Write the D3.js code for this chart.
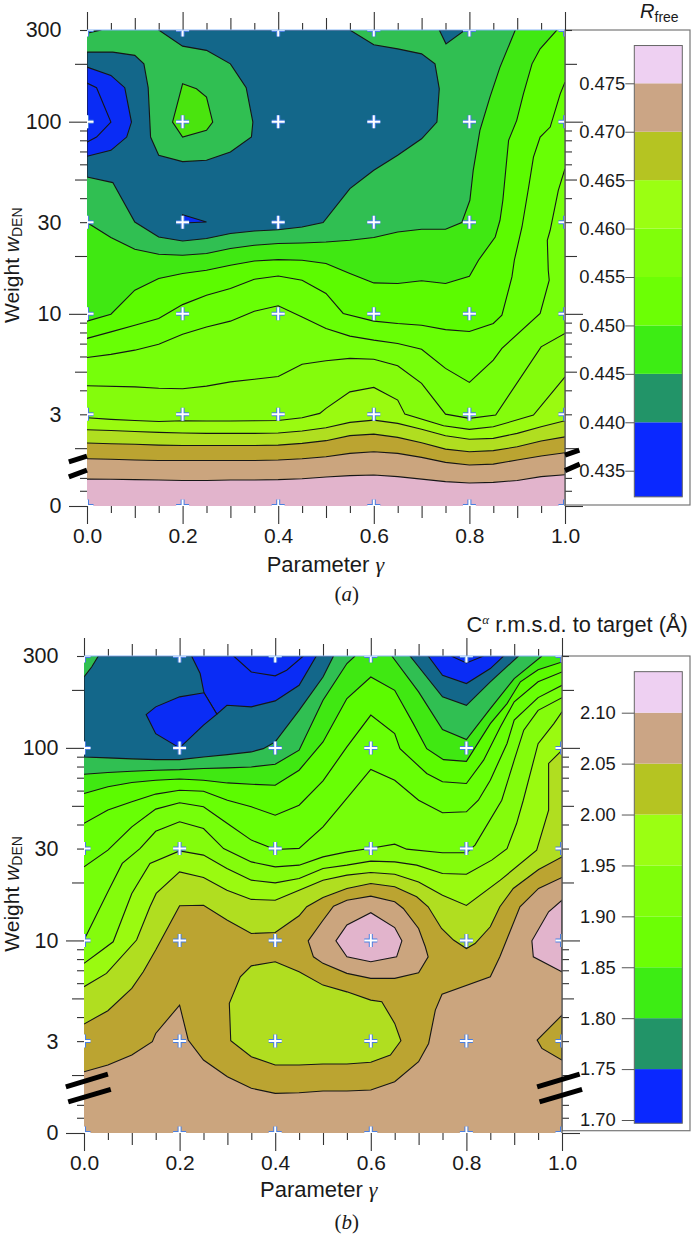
<!DOCTYPE html>
<html>
<head>
<meta charset="utf-8">
<script src="https://cdn.jsdelivr.net/npm/d3@7"></script>
<style>
  html, body { margin: 0; background: #fff; }
  svg { display: block; }
  text { font-family: "Liberation Sans", Arial, sans-serif; fill: #1a1a1a; }
  .serif { font-family: "Liberation Serif", serif; font-style: italic; }
  .caption { font-family: "Liberation Serif", serif; }
</style>
</head>
<body>
<svg id="fig" width="692" height="1234"></svg>
<script>
// every contour as [gamma, log10(weight)]
const gammaGrid = [0,.05,.1,.15,.2,.25,.3,.35,.4,.45,.5,.55,.6,.65,.7,.75,.8,.85,.9,.95,1];
const gridGammas = [0,.2,.4,.6,.8,1];
const gridWeights = [1,3,10,30,100,300];
const weightLabels = ['0','3','10','30','100','300'];
const gammaLabels = ['0.0','0.2','0.4','0.6','0.8','1.0'];
const TOP = 2.477;

// panel a, contour levels from high weight down
const aU0 = [[0,1.475],[.05,1.397],[.1,1.336],[.15,1.310],[.2,1.305],[.25,1.314],[.3,1.340],[.35,1.357],[.4,1.366],[.45,1.369],[.5,1.374],[.55,1.383],[.6,1.397],[.65,1.426],[.7,1.440],[.75,1.440],[.784,1.475],[.801,1.591],[.808,1.747],[.822,1.955],[.843,2.128],[.864,2.284],[.896,TOP]];
const aT1 = [[0,.962],[.05,.998],[.1,1.123],[.15,1.184],[.2,1.210],[.25,1.227],[.3,1.253],[.35,1.275],[.4,1.282],[.45,1.279],[.5,1.262],[.55,1.210],[.6,1.161],[.65,1.158],[.7,1.172],[.75,1.158],[.8,1.196],[.819,1.279],[.854,1.400],[.864,1.487],[.870,1.591],[.882,1.903],[.899,2.007],[.913,2.145],[.931,2.301],[.948,2.379],[.983,TOP]];
const aT2 = [[0,.872],[.05,.906],[.1,.941],[.15,.976],[.2,1.048],[.25,1.097],[.3,1.132],[.35,1.180],[.4,1.197],[.45,1.175],[.5,1.106],[.536,1.002],[.6,.962],[.65,.950],[.7,.941],[.75,.918],[.8,.908],[.85,.950],[.868,.993],[.889,1.192],[.894,1.279],[.91,1.452],[.924,1.660],[.934,1.816],[.948,1.920],[.969,1.972],[.99,2.145],[1,2.206]];
const aT3 = [[0,.773],[.05,.789],[.1,.811],[.15,.842],[.2,.894],[.25,.932],[.3,.962],[.35,1.014],[.4,1.042],[.45,.984],[.5,.924],[.55,.884],[.6,.863],[.65,.846],[.7,.816],[.75,.716],[.8,.643],[.85,.759],[.868,.820],[.948,1.002],[.967,1.175],[.965,1.227],[.963,1.383],[.969,1.435],[.986,1.643],[1,1.755]];
const aT4 = [[0,.626],[.1,.620],[.15,.613],[.2,.610],[.25,.624],[.3,.646],[.35,.660],[.4,.674],[.45,.738],[.5,.756],[.55,.768],[.6,.764],[.65,.730],[.7,.638],[.75,.478],[.8,.456],[.855,.473],[.95,.828],[1,.898]];
const aT5 = [[0,.459],[.05,.451],[.1,.445],[.15,.440],[.2,.444],[.25,.442],[.3,.442],[.35,.444],[.4,.445],[.45,.459],[.487,.482],[.5,.508],[.55,.594],[.6,.617],[.65,.551],[.665,.478],[.746,.418],[.8,.399],[.85,.412],[.934,.473],[1,.672]];
const aB = [.397,.393,.388,.383,.380,.378,.378,.378,.380,.390,.407,.435,.447,.430,.399,.366,.347,.352,.378,.412,.444];
const aC = [.328,.324,.321,.317,.315,.315,.315,.315,.317,.326,.340,.366,.374,.357,.329,.296,.282,.288,.308,.338,.360];
const aD = [.246,.243,.239,.237,.237,.237,.237,.237,.239,.246,.256,.274,.282,.274,.253,.227,.213,.218,.239,.260,.277];
const aE = [.140,.139,.137,.135,.133,.133,.135,.135,.137,.142,.151,.158,.161,.153,.140,.127,.120,.123,.133,.153,.163];
// closed patches of panel a
const aTeal = [[0,1.712],[.054,1.683],[.1,1.478],[.15,1.400],[.2,1.379],[.25,1.392],[.3,1.418],[.35,1.431],[.4,1.438],[.45,1.452],[.494,1.475],[.55,1.652],[.6,1.747],[.65,1.825],[.7,1.911],[.732,1.998],[.737,2.171],[.728,2.301],[.7,2.353],[.65,2.379],[.6,2.400],[.55,TOP],[.15,TOP],[.2,2.393],[.25,2.371],[.3,2.301],[.333,2.177],[.347,1.998],[.344,1.920],[.3,1.842],[.25,1.799],[.2,1.792],[.15,1.825],[.133,1.920],[.128,2.177],[.119,2.301],[.1,2.345],[.054,2.362],[0,2.362]];
const aTealTop = [[.737,TOP],[.751,2.405],[.791,TOP]];
const aBlue = [[0,2.284],[.05,2.241],[.079,2.177],[.093,1.998],[.083,1.920],[.05,1.851],[0,1.820]];
const aBlueInner = [[0,2.201],[.02,2.177],[.05,1.998],[.02,1.920],[0,1.894]];
const aBlueTiny = [[.2,1.516],[.25,1.478],[.2,1.473]];
const aIsland = [[.2,2.197],[.229,2.171],[.25,2.128],[.263,1.998],[.25,1.955],[.2,1.920],[.179,1.998]];
const aCorner = [[0,2.46],[.03,TOP],[0,TOP]];

// panel b
const bL2 = [[0,1.863],[.05,1.872],[.1,1.879],[.15,1.884],[.2,1.887],[.25,1.893],[.3,1.896],[.35,1.901],[.4,1.915],[.45,1.988],[.5,2.247],[.55,2.438],[.567,TOP]];
const bL2r = [[.644,TOP],[.7,2.291],[.75,2.095],[.8,2.043],[.85,2.204],[.9,2.360],[.958,TOP]];
const bL3 = [[0,1.763],[.05,1.798],[.1,1.820],[.15,1.832],[.2,1.838],[.25,1.832],[.3,1.818],[.35,1.811],[.4,1.806],[.45,1.884],[.5,2.031],[.55,2.256],[.6,2.368],[.65,2.299],[.689,2.126],[.717,1.996],[.752,1.939],[.8,1.93],[.85,2.126],[.885,2.230],[.913,2.343],[.95,2.406],[1,2.446]];
const bL4 = [[0,1.608],[.05,1.677],[.1,1.720],[.15,1.760],[.2,1.780],[.25,1.775],[.3,1.728],[.35,1.694],[.4,1.650],[.45,1.702],[.5,1.829],[.55,2.005],[.6,2.170],[.65,2.074],[.661,1.996],[.717,1.867],[.75,1.824],[.8,1.815],[.836,1.936],[.871,2.109],[.9,2.239],[.95,2.343],[1,2.394]];
const bL5 = [[0,1.382],[.05,1.469],[.1,1.590],[.15,1.682],[.2,1.715],[.25,1.694],[.3,1.607],[.35,1.521],[.4,1.472],[.45,1.478],[.5,1.590],[.535,1.694],[.6,1.888],[.65,1.832],[.7,1.728],[.75,1.663],[.8,1.668],[.825,1.728],[.85,1.832],[.885,2.023],[.9,2.144],[.95,2.261],[1,2.325]];
const bL6 = [[0,1.002],[.05,1.253],[.08,1.400],[.117,1.477],[.15,1.567],[.2,1.616],[.25,1.581],[.292,1.477],[.35,1.408],[.4,1.382],[.45,1.391],[.5,1.434],[.55,1.460],[.6,1.479],[.65,1.500],[.675,1.474],[.75,1.455],[.8,1.455],[.818,1.495],[.874,1.728],[.9,1.936],[.92,2.092],[.95,2.195],[1,2.261]];
const bL7 = [[0,.881],[.033,.941],[.061,.993],[.1,1.244],[.138,1.400],[.2,1.465],[.25,1.443],[.299,1.374],[.35,1.313],[.4,1.299],[.45,1.322],[.5,1.374],[.55,1.391],[.6,1.412],[.65,1.408],[.696,1.391],[.75,1.348],[.8,1.344],[.853,1.417],[.885,1.477],[.905,1.607],[.919,1.728],[.95,2.022],[.983,2.126],[1,2.187]];
const bL8 = [[0,.760],[.047,.829],[.11,1.002],[.138,1.175],[.151,1.244],[.2,1.356],[.25,1.327],[.299,1.261],[.35,1.213],[.4,1.209],[.45,1.261],[.5,1.313],[.55,1.339],[.6,1.353],[.65,1.344],[.7,1.304],[.75,1.235],[.8,1.182],[.871,1.313],[.947,1.469],[.972,1.676],[.972,1.728],[.972,1.919],[1,1.988]];
const bO1 = [[0,.566],[.05,.635],[.1,.751],[.124,.837],[.15,.950],[.2,1.180],[.25,1.183],[.3,1.105],[.35,1.036],[.4,1.041],[.45,1.128],[.466,1.175],[.5,1.223],[.55,1.270],[.6,1.296],[.65,1.279],[.696,1.227],[.72,1.175],[.748,1.062],[.773,1.002],[.8,.958],[.818,.984],[.85,1.071],[.87,1.175],[.898,1.270],[.951,1.368],[1,1.434]];
const bO2 = [[0,.318],[.05,.353],[.1,.405],[.143,.474],[.15,.517],[.2,.664],[.218,.483],[.25,.379],[.3,.292],[.35,.232],[.4,.206],[.45,.209],[.5,.218],[.55,.218],[.6,.223],[.65,.266],[.7,.370],[.721,.465],[.735,.638],[.749,.721],[.85,.811],[.87,.915],[.912,1.175],[.951,1.270],[1,1.327]];
const bTeal = [[0,2.368],[.016,2.420],[.03,TOP],[.522,TOP],[.5,2.368],[.45,2.195],[.4,2.031],[.375,1.996],[.35,1.979],[.3,1.965],[.25,1.953],[.2,1.939],[.15,1.939],[.1,1.943],[.05,1.948],[0,1.953]];
const bTealV = [[.682,TOP],[.75,2.265],[.8,2.221],[.85,2.343],[.909,TOP]];
const bBlue = [[.225,TOP],[.243,2.386],[.251,2.286],[.278,2.175],[.299,2.221],[.35,2.213],[.4,2.244],[.45,2.325],[.486,TOP]];
const bBlueInner = [[.313,TOP],[.35,2.394],[.4,2.374],[.424,2.403],[.459,TOP]];
const bBlueBlob = [[.13,2.173],[.15,2.213],[.2,2.265],[.251,2.286],[.278,2.175],[.25,2.118],[.2,2.000],[.15,2.074]];
const bBlueV = [[.72,TOP],[.75,2.377],[.8,2.334],[.85,2.412],[.878,TOP]];
const bBlueVInner = [[.768,TOP],[.8,2.441],[.836,TOP]];
const bTanBlob = [[.469,.998],[.5,1.105],[.522,1.178],[.55,1.209],[.6,1.230],[.65,1.201],[.668,1.166],[.7,1.062],[.714,.967],[.72,.915],[.7,.832],[.65,.803],[.6,.803],[.55,.829],[.5,.881],[.48,.915]];
const bPinkBlob = [[.527,.998],[.55,1.080],[.6,1.144],[.65,1.067],[.665,.998],[.654,.915],[.6,.889],[.55,.915]];
const bPinkRight = [[1,1.209],[.972,1.149],[.937,.998],[.94,.915],[1,.837]];
const bOliveRight = [[1,.612],[.948,.483],[.958,.439],[1,.379]];
const bIsland = [[.304,.673],[.327,.811],[.35,.868],[.4,.889],[.45,.837],[.5,.768],[.55,.733],[.6,.690],[.623,.682],[.65,.569],[.663,.479],[.641,.405],[.6,.367],[.55,.358],[.5,.358],[.45,.353],[.4,.353],[.35,.396],[.307,.479]];

// colours of the plot fills, going from high weight to low
const mapColors = ['#30bf52','#40e812','#5cfb00','#68ff05','#76ff0a','#84fc0c','#9afa10','#b0de20','#bba431','#cba57e','#e2b4cc'];
const tealColor = '#13678a', blueColor = '#0a2cf5';

// colour key
const keyColors = ['#0a28ff','#229468','#3ded14','#6cff05','#80ff0a','#9bff12','#b5c422','#cba585','#eed0f2'];
const aKeyBreaks = [.4323,.44,.445,.45,.455,.46,.465,.47,.475,.4789];
const aKeyTicks = [.435,.44,.445,.45,.455,.46,.465,.47,.475];
const bKeyBreaks = [1.6968,1.75,1.8,1.85,1.9,1.95,2,2.05,2.1,2.1403];
const bKeyTicks = [1.7,1.75,1.8,1.85,1.9,1.95,2,2.05,2.1];

const gammaLong = [0,.2,.4,.6,.8,1], gammaMid = [.1,.3,.5,.7,.9], gammaShort = [.05,.15,.25,.35,.45,.55,.65,.75,.85,.95];
const wLong = [1,10,100], wMid = [2,5,20,50,200], wShort = [1.2,1.4,3,4,6,7,8,9,30,40,60,70,80,90,300];

const onGrid = vals => vals.map((v, i) => [gammaGrid[i], v]);
const svg = d3.select('#fig');

function tickRow(g, axisFn, scale, values, size) {
  g.append('g').call(axisFn(scale).tickValues(values).tickSize(size).tickFormat(''))
    .call(s => s.select('.domain').remove())
    .selectAll('line').attr('stroke', '#333').attr('stroke-width', 1.1);
}

function drawPanel(p) {
  const x = d3.scaleLinear().domain([0, 1]).range(p.xRange);
  const y = d3.scaleLog().domain([1, 300]).range(p.yRange);
  const px = d => [x(d[0]), y(Math.pow(10, d[1]))];
  const line = d3.line().x(d => px(d)[0]).y(d => px(d)[1]);
  const [x0, x1] = p.xRange, [yBot, yTop] = p.yRange;

  const g = svg.append('g');

  // key frame goes under the right axis ticks
  g.append('rect').attr('x', x1).attr('y', yTop).attr('width', 690 - x1).attr('height', p.frameBottom - yTop)
    .attr('fill', '#fff').attr('stroke', '#777').attr('stroke-width', 1.2);

  g.append('clipPath').attr('id', p.id + 'clip').append('rect')
    .attr('x', x0).attr('y', yTop).attr('width', x1 - x0).attr('height', yBot - yTop);
  const plot = g.append('g').attr('clip-path', `url(#${p.id}clip)`);

  plot.append('rect').attr('x', x0).attr('y', yTop).attr('width', x1 - x0).attr('height', yBot - yTop).attr('fill', mapColors[0]);

  // each band is filled down to the bottom edge, later ones paint over earlier ones
  p.bands.forEach((segs, i) => {
    const pts = segs.flat();
    const last = pts[pts.length - 1];
    const ring = pts.concat(last[1] >= 2.47 ? [[1, TOP]] : [], [[1, 0], [0, 0]]);
    plot.append('path').attr('d', line(ring) + 'Z').attr('fill', mapColors[i + 1]);
    segs.forEach(s => plot.append('path').attr('d', line(s)).attr('fill', 'none').attr('stroke', '#161616').attr('stroke-width', 1.1));
  });
  p.patches.forEach(c => {
    plot.append('path').attr('d', line(c.pts) + 'Z').attr('fill', c.color)
      .attr('stroke', '#161616').attr('stroke-width', 1.1);
  });

  // run markers, cut by the plot edge like the original
  const cells = d3.cross(gridGammas, gridWeights);
  const cross = d => { const cx = x(d[0]), cy = y(d[1]); return `M${cx - 6.5},${cy}H${cx + 6.5}M${cx},${cy - 6.5}V${cy + 6.5}`; };
  plot.selectAll('.mo').data(cells).join('path').attr('d', cross).attr('stroke', '#4a7fe0').attr('stroke-width', 4).attr('fill', 'none');
  plot.selectAll('.mi').data(cells).join('path').attr('d', cross).attr('stroke', '#fff').attr('stroke-width', 2).attr('fill', 'none');

  // axes
  const ax = g.append('g');
  const bottom = ax.append('g').attr('transform', `translate(0,${yBot})`);
  const top = ax.append('g').attr('transform', `translate(0,${yTop})`);
  const left = ax.append('g').attr('transform', `translate(${x0},0)`);
  const right = ax.append('g').attr('transform', `translate(${x1},0)`);
  [[bottom, d3.axisBottom], [top, d3.axisTop]].forEach(([s, fn]) => {
    tickRow(s, fn, x, gammaLong, 18); tickRow(s, fn, x, gammaMid, 12); tickRow(s, fn, x, gammaShort, 7);
  });
  [[left, d3.axisLeft], [right, d3.axisRight]].forEach(([s, fn]) => {
    tickRow(s, fn, y, wLong, 18); tickRow(s, fn, y, wMid, 12); tickRow(s, fn, y, wShort, 7);
  });
  ax.append('line').attr('x1', x1).attr('x2', x1).attr('y1', yTop).attr('y2', yBot).attr('stroke', '#555').attr('stroke-width', 1.3);
  ax.append('line').attr('x1', x0).attr('x2', x1).attr('y1', yTop).attr('y2', yTop).attr('stroke', '#86b4f5').attr('stroke-width', 1);

  bottom.append('g').call(d3.axisBottom(x).tickValues(gridGammas).tickSize(0).tickPadding(22).tickFormat((d, i) => gammaLabels[i]))
    .call(s => s.select('.domain').remove()).selectAll('text').attr('font-size', 21).attr('fill', '#1a1a1a');
  left.append('g').call(d3.axisLeft(y).tickValues(gridWeights).tickSize(0).tickPadding(25.5).tickFormat((d, i) => weightLabels[i]))
    .call(s => s.select('.domain').remove()).selectAll('text').attr('font-size', 21.5).attr('fill', '#1a1a1a');

  // break marks on the weight axis
  p.breaks.forEach(b => {
    g.append('path').attr('d', line(b)).attr('stroke', '#000').attr('stroke-width', 5).attr('fill', 'none');
  });

  const xTitle = g.append('text').attr('x', p.xTitle[0]).attr('y', p.xTitle[1]).attr('font-size', 22).text('Parameter ');
  xTitle.append('tspan').attr('class', 'serif').text('γ');

  const yTitle = g.append('text').attr('transform', `translate(19,${p.yTitleStart}) rotate(-90)`).attr('font-size', 21).text('Weight ');
  yTitle.append('tspan').attr('font-style', 'italic').text('w');
  yTitle.append('tspan').attr('font-size', 14).attr('dy', 3).text('DEN');

  const cap = g.append('text').attr('class', 'caption').attr('x', 346.7).attr('y', p.capY).attr('text-anchor', 'middle').attr('font-size', 21);
  cap.append('tspan').text('(');
  cap.append('tspan').attr('font-style', 'italic').text(p.id);
  cap.append('tspan').text(')');

  // colour key
  const kx = 634.3, kw = 48;
  const k = d3.scaleLinear().domain(p.keyDomain).range(p.keyRange);
  const kBreaks = p.keyBreaks;
  g.selectAll('.key' + p.id).data(keyColors).join('rect')
    .attr('x', kx).attr('width', kw)
    .attr('y', (_, i) => k(kBreaks[i + 1]))
    .attr('height', (_, i) => k(kBreaks[i]) - k(kBreaks[i + 1]))
    .attr('fill', d => d);
  const kTop = k(kBreaks[kBreaks.length - 1]), kBot = k(kBreaks[0]);
  g.append('rect').attr('x', kx).attr('width', kw).attr('y', kTop).attr('height', kBot - kTop)
    .attr('fill', 'none').attr('stroke', '#666').attr('stroke-width', 1);
  g.append('g').attr('transform', `translate(${kx},0)`)
    .call(d3.axisLeft(k).tickValues(p.keyTicks).tickSize(p.keyTick).tickPadding(p.keyPad).tickFormat(d3.format(p.keyFormat)))
    .call(s => s.select('.domain').remove())
    .call(s => s.selectAll('line').attr('stroke', '#555'))
    .selectAll('text').attr('font-size', 18.4).attr('fill', '#1a1a1a');
  return g;
}

const panelA = drawPanel({
  id: 'a', xRange: [87, 565], yRange: [506, 30], frameBottom: 505,
  bands: [[aU0], [aT1], [aT2], [aT3], [aT4], [aT5], [onGrid(aB)], [onGrid(aC)], [onGrid(aD)], [onGrid(aE)]],
  patches: [
    { pts: aCorner, color: mapColors[1] },
    { pts: aTeal, color: tealColor }, { pts: aTealTop, color: tealColor },
    { pts: aBlue, color: blueColor }, { pts: aBlueInner, color: blueColor },
    { pts: aBlueTiny, color: blueColor }, { pts: aIsland, color: '#4ae40e' }
  ],
  breaks: [
    [[-.038,.230],[0,.260]], [[-.038,.152],[0,.187]],
    [[1,.265],[1.03,.291]], [[1,.184],[1.031,.218]]
  ],
  xTitle: [266.7, 571.5], yTitleStart: 323, capY: 600.5,
  keyDomain: [.435, .475], keyRange: [470.7, 83.3], keyBreaks: aKeyBreaks, keyTicks: aKeyTicks, keyTick: 9, keyPad: 0, keyFormat: '.3f'
});
panelA.append('text').attr('x', 640).attr('y', 18).attr('font-size', 20).attr('font-style', 'italic').text('R');
panelA.append('text').attr('x', 654.5).attr('y', 22).attr('font-size', 14).text('free');

const panelB = drawPanel({
  id: 'b', xRange: [84, 562], yRange: [1133, 656], frameBottom: 1130.7,
  bands: [[bL2, bL2r], [bL3], [bL4], [bL5], [bL6], [bL7], [bL8], [bO1], [bO2]],
  patches: [
    { pts: bTeal, color: tealColor }, { pts: bTealV, color: tealColor },
    { pts: bBlue, color: blueColor }, { pts: bBlueInner, color: blueColor }, { pts: bBlueBlob, color: blueColor },
    { pts: bBlueV, color: blueColor }, { pts: bBlueVInner, color: blueColor },
    { pts: bIsland, color: mapColors[7] }, { pts: bTanBlob, color: mapColors[9] }, { pts: bPinkBlob, color: mapColors[10] },
    { pts: bPinkRight, color: mapColors[10] }, { pts: bOliveRight, color: mapColors[8] }
  ],
  breaks: [
    [[-.038,.240],[.05,.306]], [[-.033,.162],[.056,.227]],
    [[.948,.240],[1.037,.306]], [[.953,.162],[1.042,.227]]
  ],
  xTitle: [260, 1196.5], yTitleStart: 951.7, capY: 1229,
  keyDomain: [1.7, 2.1], keyRange: [1120, 712.7], keyBreaks: bKeyBreaks, keyTicks: bKeyTicks, keyTick: 12.5, keyPad: 6, keyFormat: '.2f'
});
const bKeyTitle = panelB.append('text').attr('x', 466.5).attr('y', 631.5).attr('font-size', 21.8).text('C');
bKeyTitle.append('tspan').attr('class', 'serif').attr('font-size', 13).attr('dy', -8).text('α');
bKeyTitle.append('tspan').attr('dy', 8).text(' r.m.s.d. to target (Å)');
</script>
</body>
</html>
